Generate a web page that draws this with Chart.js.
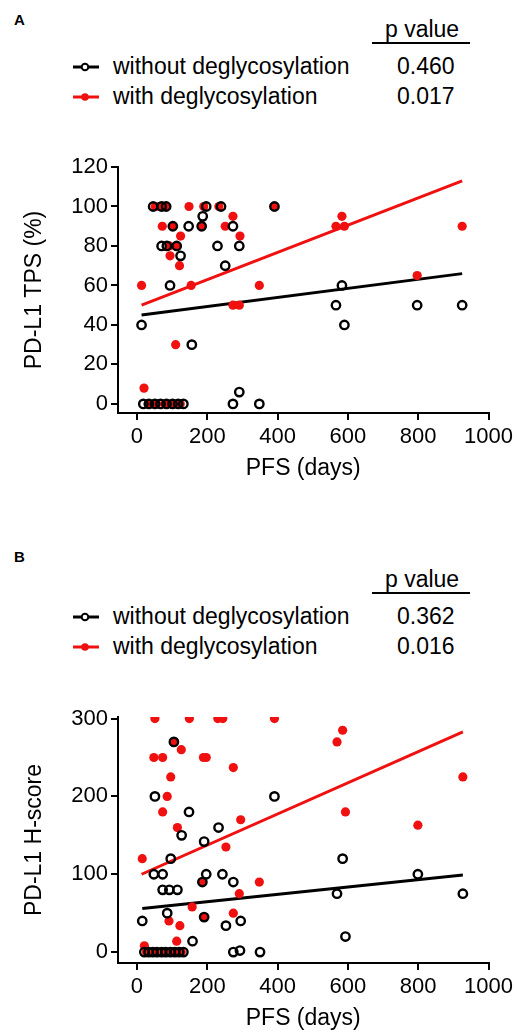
<!DOCTYPE html>
<html>
<head>
<meta charset="utf-8">
<script src="https://cdn.jsdelivr.net/npm/chart.js@4.4.1/dist/chart.umd.min.js"></script>
<style>
  body { margin: 0; background: #fff; width: 517px; height: 1033px; position: relative; overflow: hidden;
         font-family: "Liberation Sans", Arial, sans-serif; color: #000; }
  .panel { position: absolute; left: 0; width: 517px; height: 550px; }
  .tag { position: absolute; left: 14px; top: 11px; font-size: 15px; font-weight: bold; line-height: 18px; }
  .txt { position: absolute; font-size: 23px; line-height: 27px; white-space: nowrap; }
  .rule { position: absolute; left: 372px; top: 42px; width: 98px; height: 2px; background: #000; }
  .mark { position: absolute; left: 71px; width: 30px; height: 14px; }
  canvas { position: absolute; left: 0; }
</style>
</head>
<body>

<div class="panel" style="top:0">
  <div class="tag">A</div>
  <div class="txt" style="left:385px;top:16px">p value</div>
  <div class="rule"></div>
  <svg class="mark" style="top:60px"><line x1="2" y1="7" x2="28" y2="7" stroke="#000" stroke-width="3"/><circle cx="14" cy="7" r="3.3" fill="#fff" stroke="#000" stroke-width="2"/></svg>
  <div class="txt" style="left:113px;top:53px">without deglycosylation</div>
  <div class="txt" style="left:397px;top:53px">0.460</div>
  <svg class="mark" style="top:90px"><line x1="2" y1="7" x2="28" y2="7" stroke="#f01010" stroke-width="3"/><circle cx="14" cy="7" r="3.8" fill="#f01010"/></svg>
  <div class="txt" style="left:113px;top:83px">with deglycosylation</div>
  <div class="txt" style="left:397px;top:83px">0.017</div>
</div>
<canvas id="chartA" width="517" height="332" style="top:150px"></canvas>

<div class="panel" style="top:550px">
  <div class="tag" style="top:-2px">B</div>
  <div class="txt" style="left:385px;top:16px">p value</div>
  <div class="rule"></div>
  <svg class="mark" style="top:60px"><line x1="2" y1="7" x2="28" y2="7" stroke="#000" stroke-width="3"/><circle cx="14" cy="7" r="3.3" fill="#fff" stroke="#000" stroke-width="2"/></svg>
  <div class="txt" style="left:113px;top:53px">without deglycosylation</div>
  <div class="txt" style="left:397px;top:53px">0.362</div>
  <svg class="mark" style="top:90px"><line x1="2" y1="7" x2="28" y2="7" stroke="#f01010" stroke-width="3"/><circle cx="14" cy="7" r="3.8" fill="#f01010"/></svg>
  <div class="txt" style="left:113px;top:83px">with deglycosylation</div>
  <div class="txt" style="left:397px;top:83px">0.016</div>
</div>
<canvas id="chartB" width="517" height="332" style="top:700px"></canvas>

<script>
const RED = '#f01010';
const FONT = '"Liberation Sans", Arial, sans-serif';

const xTicks = [0, 200, 400, 600, 800, 1000];
const tpsTicks = [0, 20, 40, 60, 80, 100, 120];
const hscoreTicks = [0, 100, 200, 300];

// panel A: PD-L1 TPS (%) vs PFS (days), [days, value]
const tpsWithout = [
    [46, 100], [70, 100], [83, 100], [197, 100], [239, 100], [391, 100],
    [187, 95],
    [102, 90], [147, 90], [184, 90], [273, 90],
    [70, 80], [85, 80], [113, 80], [229, 80], [291, 80],
    [124, 75], [251, 70],
    [94, 60], [583, 60],
    [566, 50], [797, 50], [925, 50],
    [13, 40], [590, 40],
    [156, 30], [291, 6],
    [18, 0], [34, 0], [51, 0], [67, 0], [84, 0], [101, 0], [117, 0], [132, 0], [273, 0], [348, 0]
];
const tpsWith = [
    [52, 100], [64, 100], [80, 100], [148, 100], [190, 100], [233, 100], [391, 100],
    [273, 95], [583, 95],
    [72, 90], [102, 90], [184, 90], [251, 90], [566, 90], [590, 90], [925, 90],
    [124, 85], [293, 85],
    [92, 80], [113, 80],
    [94, 75], [121, 70], [797, 65],
    [13, 60], [154, 60], [348, 60],
    [273, 50], [291, 50],
    [110, 30], [20, 8],
    [32, 0], [56, 0], [80, 0], [103, 0], [123, 0]
];
const tpsFitWithout = [[13, 45], [925, 66]];
const tpsFitWith = [[13, 50], [925, 113]];

// panel B: PD-L1 H-score vs PFS (days)
const hsWithout = [
    [105, 270],
    [51, 200], [391, 200],
    [148, 180], [232, 160], [127, 150], [191, 142],
    [96, 120], [585, 120],
    [48, 100], [73, 100], [197, 100], [243, 100], [799, 100],
    [186, 90], [274, 90],
    [73, 80], [92, 80], [115, 80],
    [569, 75], [927, 75],
    [86, 50], [191, 45],
    [15, 40], [295, 40], [253, 34],
    [593, 20], [158, 14], [293, 2],
    [21, 0], [33, 0], [45, 0], [57, 0], [70, 0], [82, 0], [95, 0], [108, 0], [120, 0], [132, 0], [274, 0], [350, 0]
];
const hsWith = [
    [51, 300], [149, 300], [230, 300], [244, 300], [391, 300],
    [585, 285], [105, 270], [569, 270], [126, 260],
    [48, 250], [73, 250], [189, 250], [197, 250],
    [274, 237], [96, 225], [927, 225],
    [86, 200], [73, 180], [593, 180],
    [295, 170], [799, 163], [115, 160], [253, 135],
    [15, 120], [186, 90], [348, 90], [291, 75],
    [157, 58], [274, 50], [191, 45], [91, 40], [122, 34],
    [113, 14], [21, 8],
    [27, 0], [51, 0], [76, 0], [101, 0], [126, 0]
];
const hsFitWithout = [[15, 56], [927, 99]];
const hsFitWith = [[13, 100], [927, 283]];

const pts = arr => arr.map(([x, y]) => ({ x, y }));

function buildChart(id, opt) {
    const axisGrid = { drawOnChartArea: false, color: '#000', tickColor: '#000', tickWidth: 2, lineWidth: 2, tickLength: 7 };
    return new Chart(document.getElementById(id), {
        type: 'scatter',
        data: {
            datasets: [
                { data: pts(opt.without), pointRadius: 4.2, pointBorderWidth: 2.4, pointBorderColor: '#000',
                  pointBackgroundColor: 'rgba(0,0,0,0)', order: 1 },
                { data: pts(opt.withD), pointRadius: 4.6, pointBorderWidth: 0, pointBackgroundColor: RED, order: 2 },
                { type: 'line', data: pts(opt.fitWithout), borderColor: '#000', borderWidth: 3, pointRadius: 0, order: 3 },
                { type: 'line', data: pts(opt.fitWith), borderColor: RED, borderWidth: 3, pointRadius: 0, order: 4 }
            ]
        },
        options: {
            responsive: false,
            animation: false,
            devicePixelRatio: 1,
            layout: { padding: { top: 17, right: 28, left: 0, bottom: 0 } },
            plugins: { legend: { display: false }, tooltip: { enabled: false } },
            scales: {
                x: {
                    type: 'linear', min: -54, max: 1000,
                    afterBuildTicks: s => { s.ticks = xTicks.map(v => ({ value: v })); },
                    afterFit: s => { s.height = 69; },
                    border: { color: '#000', width: 2 },
                    grid: axisGrid,
                    ticks: { color: '#000', font: { size: 22, family: FONT }, padding: 4, maxRotation: 0, autoSkip: false,
                             callback: v => String(v) },
                    title: { display: true, text: 'PFS (days)', color: '#000', font: { size: 23, family: FONT }, padding: { top: 0, bottom: 0 } }
                },
                y: {
                    type: 'linear', min: opt.yMin, max: opt.yMax,
                    afterBuildTicks: s => { s.ticks = opt.yTicks.map(v => ({ value: v })); },
                    afterFit: s => { s.width = 118; },
                    border: { color: '#000', width: 2 },
                    grid: axisGrid,
                    ticks: { color: '#000', font: { size: 22, family: FONT }, padding: 3, autoSkip: false,
                             callback: v => String(v) },
                    title: { display: true, text: opt.yTitle, color: '#000', font: { size: 23, family: FONT }, padding: { top: 21, bottom: 0 } }
                }
            }
        }
    });
}

buildChart('chartA', {
    without: tpsWithout, withD: tpsWith, fitWithout: tpsFitWithout, fitWith: tpsFitWith,
    yTicks: tpsTicks, yMin: -4.6, yMax: 120, yTitle: 'PD-L1 TPS (%)'
});
buildChart('chartB', {
    without: hsWithout, withD: hsWith, fitWithout: hsFitWithout, fitWith: hsFitWith,
    yTicks: hscoreTicks, yMin: -14, yMax: 302, yTitle: 'PD-L1 H-score'
});
</script>
</body>
</html>
